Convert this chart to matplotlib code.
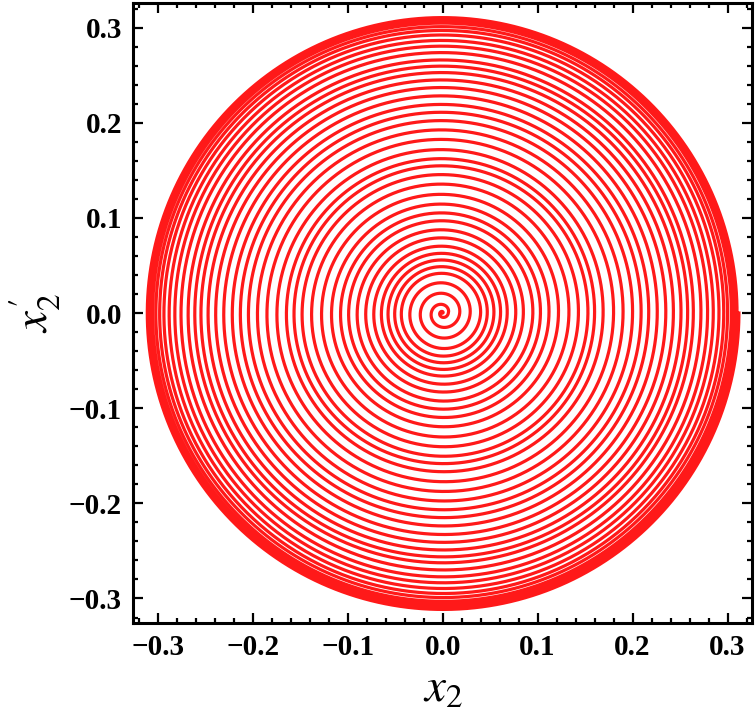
import matplotlib
matplotlib.use("Agg")
import matplotlib.pyplot as plt
from matplotlib.ticker import MultipleLocator
import numpy as np

# radius of the trajectory each time it crosses the +x2 axis
turn_radius = [0.000, 0.006, 0.018, 0.029, 0.040, 0.047, 0.054, 0.061, 0.068,
               0.077, 0.085, 0.095, 0.103, 0.112, 0.122, 0.133, 0.143, 0.153,
               0.160, 0.169, 0.180, 0.190, 0.200, 0.209, 0.217, 0.226, 0.235,
               0.243, 0.251, 0.258, 0.264, 0.272, 0.279, 0.285, 0.291, 0.296,
               0.300, 0.304, 0.307, 0.310, 0.312]
ticks = [-0.3, -0.2, -0.1, 0.0, 0.1, 0.2, 0.3]
lim = 0.326

plt.rcParams['mathtext.fontset'] = 'stix'
font_ticks = {'family': 'Liberation Serif', 'weight': 'bold', 'size': 21}

# trajectory in the (x2, x2') plane
turns = np.arange(len(turn_radius))
phase = np.linspace(0, turns[-1], 40000)
r = np.interp(phase, turns, turn_radius)
x2 = r * np.cos(2 * np.pi * phase)
dx2 = r * np.sin(2 * np.pi * phase)

fig = plt.figure(figsize=(7.56, 7.18), dpi=100)
ax = fig.add_axes([0.176, 0.132, 0.819, 0.864])
ax.plot(x2, dx2, color='#ff0000', lw=2.3, alpha=0.9)

labels = [("%.1f" % t).replace("-", "\u2212") for t in ticks]
ax.set_xlim(-lim, lim)
ax.set_ylim(-lim, lim)
ax.set_xticks(ticks)
ax.set_yticks(ticks)
ax.set_xticklabels(labels, fontdict=font_ticks)
ax.set_yticklabels(labels, fontdict=font_ticks)
ax.xaxis.set_minor_locator(MultipleLocator(0.02))
ax.yaxis.set_minor_locator(MultipleLocator(0.02))
ax.tick_params(which='both', direction='in', top=True, right=True, width=1.6)
ax.tick_params(which='major', length=7, pad=8)
ax.tick_params(which='minor', length=3.5)
for s in ax.spines.values():
    s.set_linewidth(2.2)

ax.set_xlabel(r"$x_2$", fontsize=34, labelpad=4)
ax.set_ylabel(r"$x_2^{\prime}$", fontsize=34, labelpad=4)

plt.savefig("out.png", dpi=100)
